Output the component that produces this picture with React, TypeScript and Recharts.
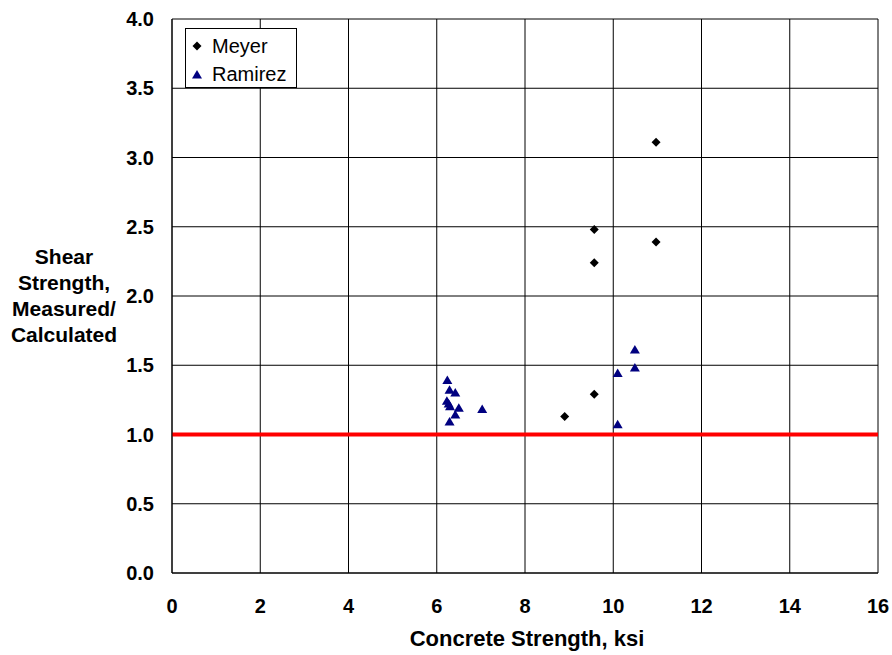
import React from "react";
import {
  ScatterChart, Scatter, XAxis, YAxis, CartesianGrid, ReferenceLine, Legend,
} from "recharts";

const FONT = '"Liberation Sans", Arial, sans-serif';

// Meyer tests (diamonds)
const meyerX = [8.9, 9.57, 9.57, 9.57, 10.97, 10.97];
const meyerY = [1.13, 1.29, 2.24, 2.48, 2.39, 3.11];

// Ramirez tests (triangles)
const ramirezX = [6.24, 6.29, 6.42, 6.23, 6.27, 6.3, 6.5, 7.03, 6.42, 6.29, 10.1, 10.1, 10.49, 10.49];
const ramirezY = [1.39, 1.32, 1.3, 1.24, 1.22, 1.2, 1.19, 1.18, 1.14, 1.09, 1.07, 1.44, 1.48, 1.61];

const xTicks = [0, 2, 4, 6, 8, 10, 12, 14, 16];
const yTicks = [0, 0.5, 1, 1.5, 2, 2.5, 3, 3.5, 4];
const yTitle = ["Shear", "Strength,", "Measured/", "Calculated"];
const xTitle = "Concrete Strength, ksi";
const seriesNames = ["Meyer", "Ramirez"];
const limitValue = 1.0;

const meyer = meyerX.map((x, i) => ({ x, y: meyerY[i] }));
const ramirez = ramirezX.map((x, i) => ({ x, y: ramirezY[i] }));

const Diamond = ({ cx, cy, fill }: any) => (
  <path d={`M${cx},${cy - 4.5} L${cx + 4.5},${cy} L${cx},${cy + 4.5} L${cx - 4.5},${cy} Z`} fill={fill} />
);

const Triangle = ({ cx, cy, fill }: any) => (
  <path d={`M${cx},${cy - 5} L${cx + 5},${cy + 3.5} L${cx - 5},${cy + 3.5} Z`} fill={fill} />
);

const XTick = ({ x, y, payload }: any) => (
  <text x={x} y={y + 40} textAnchor="middle" fontFamily={FONT} fontSize={20} fontWeight="bold" fill="#000">
    {payload.value}
  </text>
);

const YTick = ({ x, y, payload }: any) => (
  <text x={x - 18} y={y + 7} textAnchor="end" fontFamily={FONT} fontSize={20} fontWeight="bold" fill="#000">
    {Number(payload.value).toFixed(1)}
  </text>
);

const LegendBox = () => (
  <div style={{ fontFamily: FONT, fontSize: 20, color: "#000", lineHeight: "28px", padding: "3px 0 0 5px" }}>
    {seriesNames.map((name, i) => (
      <div key={name} style={{ display: "flex", alignItems: "center", height: 28 }}>
        <svg width={12} height={12} style={{ marginRight: 9 }}>
          {i === 0 ? <Diamond cx={6} cy={6} fill="#000" /> : <Triangle cx={6} cy={7} fill="#000080" />}
        </svg>
        <span>{name}</span>
      </div>
    ))}
  </div>
);

const App: React.FC = () => {
  return (
    <div style={{ position: "absolute", left: 0, top: 0, background: "#fff" }}>
      <ScatterChart width={892} height={655} margin={{ top: 19, right: 14, bottom: 0, left: 0 }}>
        <CartesianGrid stroke="#000" strokeWidth={1} />
        <XAxis
          type="number"
          dataKey="x"
          domain={[0, 16]}
          ticks={xTicks}
          interval={0}
          height={82}
          tickSize={0}
          tickMargin={0}
          tickLine={false}
          axisLine={{ stroke: "#000" }}
          tick={<XTick />}
          label={{
            content: ({ viewBox }: any) => (
              <text
                x={viewBox.x + viewBox.width / 2 + 2}
                y={viewBox.y + 73}
                textAnchor="middle"
                fontFamily={FONT}
                fontSize={22}
                fontWeight="bold"
                fill="#000"
              >
                {xTitle}
              </text>
            ),
          }}
        />
        <YAxis
          type="number"
          dataKey="y"
          domain={[0, 4]}
          ticks={yTicks}
          interval={0}
          width={172}
          tickSize={0}
          tickMargin={0}
          tickLine={false}
          axisLine={{ stroke: "#000" }}
          tick={<YTick />}
          label={{
            content: ({ viewBox }: any) => {
              const cy = viewBox.y + viewBox.height / 2;
              return (
                <text fontFamily={FONT} fontSize={21} fontWeight="bold" fill="#000" textAnchor="middle">
                  {yTitle.map((line, i) => (
                    <tspan key={line} x={64} y={cy - 32 + i * 26}>{line}</tspan>
                  ))}
                </text>
              );
            },
          }}
        />
        <ReferenceLine y={limitValue} stroke="#ff0000" strokeWidth={4} />
        <Legend
          layout="vertical"
          align="center"
          verticalAlign="middle"
          content={<LegendBox />}
          wrapperStyle={{
            left: 185, top: 28, width: 112, height: 60, border: "1px solid #000",
            background: "#fff", boxSizing: "border-box",
          }}
        />
        <Scatter name="Meyer" data={meyer} fill="#000" shape={<Diamond />} isAnimationActive={false} />
        <Scatter name="Ramirez" data={ramirez} fill="#000080" shape={<Triangle />} isAnimationActive={false} />
      </ScatterChart>
    </div>
  );
};

export default App;
